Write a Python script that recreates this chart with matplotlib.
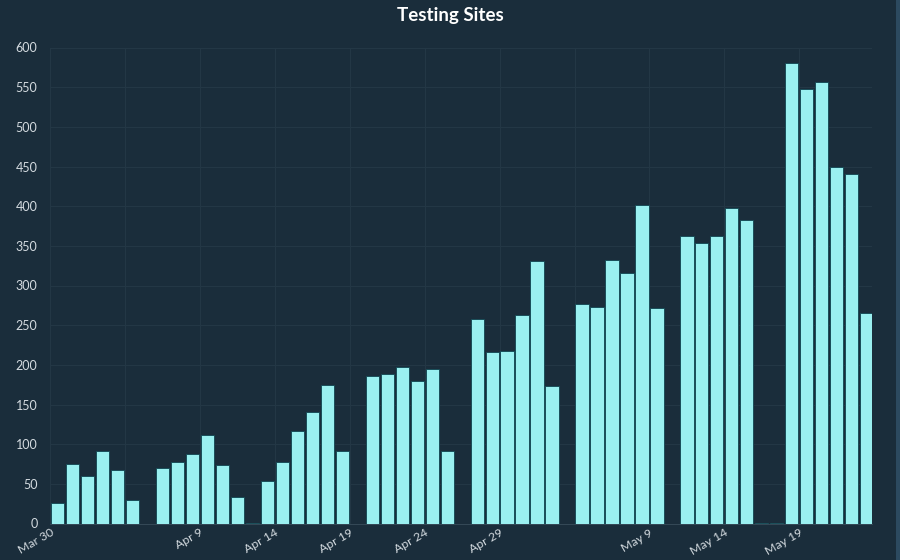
import matplotlib
matplotlib.use("Agg")
import matplotlib.pyplot as plt
import pandas as pd
from matplotlib.patches import Rectangle

dates = [
    "2020-03-30", "2020-03-31", "2020-04-01", "2020-04-02", "2020-04-03", "2020-04-04",
    "2020-04-06", "2020-04-07", "2020-04-08", "2020-04-09", "2020-04-10", "2020-04-11",
    "2020-04-12",
    "2020-04-13", "2020-04-14", "2020-04-15", "2020-04-16", "2020-04-17", "2020-04-18",
    "2020-04-20", "2020-04-21", "2020-04-22", "2020-04-23", "2020-04-24", "2020-04-25",
    "2020-04-27", "2020-04-28", "2020-04-29", "2020-04-30", "2020-05-01", "2020-05-02",
    "2020-05-04", "2020-05-05", "2020-05-06", "2020-05-07", "2020-05-08", "2020-05-09",
    "2020-05-11", "2020-05-12", "2020-05-13", "2020-05-14", "2020-05-15",
    "2020-05-16", "2020-05-17",
    "2020-05-18", "2020-05-19", "2020-05-20", "2020-05-21", "2020-05-22", "2020-05-23",
]
sites = [
    26, 75, 60, 92, 68, 30,
    70, 78, 88, 112, 74, 34,
    1,
    54, 78, 116, 140, 174, 92,
    186, 189, 197, 179, 195, 92,
    258, 216, 218, 263, 331, 173,
    277, 273, 332, 316, 401, 272,
    362, 353, 362, 398, 382,
    1, 1,
    580, 548, 556, 449, 440, 265,
]
tick_dates = ["2020-03-30", "2020-04-04", "2020-04-09", "2020-04-14", "2020-04-19",
              "2020-04-24", "2020-04-29", "2020-05-04", "2020-05-09", "2020-05-14",
              "2020-05-19"]
tick_labels = ["Mar 30", "", "Apr 9", "Apr 14", "Apr 19", "Apr 24", "Apr 29", "",
               "May 9", "May 14", "May 19"]
y_ticks = [0, 50, 100, 150, 200, 250, 300, 350, 400, 450, 500, 550, 600]

BG = "#1a2d3b"
BAR = "#9af0f0"
EDGE = "#0f4450"
GRID = "#233745"
TXT = "#d4dbe0"

start = pd.Timestamp(dates[0])
xs = [(pd.Timestamp(d) - start).days for d in dates]
txs = [(pd.Timestamp(d) - start).days for d in tick_dates]

fig = plt.figure(figsize=(9, 5.6), dpi=100, facecolor=BG)
ax = fig.add_axes([50 / 900, 1 - 523.5 / 560, (872 - 50) / 900, (523.5 - 47.5) / 560])
ax.set_facecolor(BG)

ax.bar([x + 0.06 for x in xs], sites, width=0.88, align="edge", color=BAR,
       edgecolor=EDGE, linewidth=0.6, zorder=3)

ax.set_xlim(0, 54.85)
ax.set_ylim(0, 600)
ax.set_yticks(y_ticks)
ax.set_xticks(txs)
ax.set_xticklabels(tick_labels, rotation=30, ha="right", rotation_mode="anchor",
                   fontsize=8.8, color=TXT, family="Lato")
for lab in ax.get_yticklabels():
    lab.set_fontsize(9)
    lab.set_color(TXT)
    lab.set_family("Lato")

ax.grid(True, color=GRID, linewidth=0.8, zorder=0)
ax.tick_params(axis="x", length=0, pad=2.5)
ax.tick_params(axis="y", length=0, pad=9)
for s in ["top", "right", "left"]:
    ax.spines[s].set_visible(False)
ax.spines["bottom"].set_color("#3a4e5c")
ax.spines["bottom"].set_linewidth(0.6)

fig.text(0.5, 1 - 16 / 560, "Testing Sites", ha="center", va="center",
         fontsize=13.5, fontweight="bold", color="white", family="Lato")

fig.add_artist(Rectangle((896 / 900, 0), 4 / 900, 1, transform=fig.transFigure,
                         facecolor="#2c4a60", edgecolor="none"))

fig.savefig("out.png", dpi=100, facecolor=BG)
